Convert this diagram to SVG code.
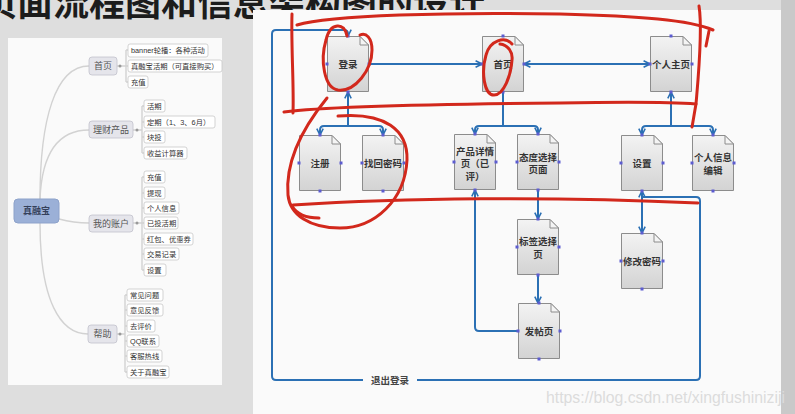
<svg xmlns="http://www.w3.org/2000/svg" xmlns:xlink="http://www.w3.org/1999/xlink" width="795" height="414" viewBox="0 0 795 414">
<style>
  .cjk{font-family:"Liberation Sans","Noto Sans CJK SC",sans-serif;}
  .title{font-size:36px;font-weight:bold;fill:#1c1c1c;}
  .mmc{fill:#ffffff;stroke:#c8c8c8;stroke-width:0.8;}
  .mmp{fill:#e5e5eb;stroke:#c2c2cc;stroke-width:0.8;}
  .mmt{font-size:7.3px;fill:#333;text-anchor:start;}
  .mpt{font-size:9px;fill:#555;text-anchor:middle;}
  .mml{fill:none;stroke:#d2d2d2;stroke-width:1.4;}
  .doc{fill:url(#g);stroke:#8c8c8c;stroke-width:1;}
  .fold{fill:#f4f4f4;stroke:#8c8c8c;stroke-width:1;}
  .nt{font-size:9.5px;font-weight:bold;fill:#333;text-anchor:middle;}
  .cp{fill:#5c5cd0;}
  .con{fill:none;stroke:#2b70b4;stroke-width:2;}
  .red{fill:none;stroke:#d2281c;stroke-width:3;stroke-linecap:round;stroke-linejoin:round;}
</style>
<defs>
  <linearGradient id="g" x1="0" y1="0" x2="0" y2="1">
    <stop offset="0" stop-color="#f3f3f3"/>
    <stop offset="1" stop-color="#d3d3d3"/>
  </linearGradient>
  <g id="docshape">
    <path class="doc" d="M0.5,0.5 H33 L41.5,9 V55.5 H0.5 Z"/>
    <path class="fold" d="M33,0.5 V9 H41.5 Z"/>
  </g>
  <g id="cps">
    <rect class="cp" x="19.5" y="-1.5" width="3" height="3"/>
    <rect class="cp" x="19.5" y="54.5" width="3" height="3"/>
    <rect class="cp" x="-1.5" y="26.5" width="3" height="3"/>
    <rect class="cp" x="40.5" y="26.5" width="3" height="3"/>
  </g>
  <marker id="ah" viewBox="0 0 10 10" refX="9" refY="5" markerWidth="8" markerHeight="8" markerUnits="userSpaceOnUse" orient="auto-start-reverse">
    <path d="M1,1 L9,5 L1,9" fill="none" stroke="#2b70b4" stroke-width="2"/>
  </marker>
</defs>

<!-- backdrop -->
<rect x="0" y="0" width="795" height="414" fill="#dedede"/>
<text class="cjk title" x="-19" y="16">页面流程图和信息架构图的设计</text>
<rect x="8" y="38" width="214" height="347" fill="#fafafa"/>
<rect x="781" y="0" width="14" height="414" fill="#c9c9c9"/>
<rect x="253" y="10" width="528" height="404" fill="#fafafa"/>

<!-- mind map connectors -->
<g id="mindmap-links">
  <path class="mml" d="M40,199 C40,120 55,66 89,66"/>
  <path class="mml" d="M40,199 C42,150 60,130 89,130"/>
  <path class="mml" d="M59,219 C70,222 80,223 89,223"/>
  <path class="mml" d="M40,223 C40,300 60,334 88,334"/>
  <path class="mml" d="M117,66 H126 M126,50 V82 M126,50 H128 M126,66 H128 M126,82 H128"/>
  <path class="mml" d="M133,130 H142 M142,106 V153 M142,106 H144 M142,122 H144 M142,137 H144 M142,153 H144"/>
  <path class="mml" d="M133,223 H142 M142,177 V270 M142,177 H144 M142,193 H144 M142,208 H144 M142,223 H144 M142,239 H144 M142,254 H144 M142,270 H144"/>
  <path class="mml" d="M117,334 H125 M125,295 V372 M125,295 H127 M125,310 H127 M125,326 H127 M125,341 H127 M125,356 H127 M125,372 H127"/>
  <circle cx="120" cy="66" r="1.5" fill="#999"/>
  <circle cx="137" cy="130" r="1.5" fill="#999"/>
  <circle cx="137" cy="223" r="1.5" fill="#999"/>
  <circle cx="120" cy="334" r="1.5" fill="#999"/>
</g>

<!-- mind map nodes -->
<g id="mm-root">
  <rect x="14" y="199" width="45" height="24" rx="4" fill="#9bb0d7" stroke="#8da2ca"/>
  <text class="cjk" x="36.5" y="214" font-size="9" font-weight="bold" fill="#34405a" text-anchor="middle">真融宝</text>
</g>
<g id="mm-home">
  <rect class="mmp" x="89" y="57" width="28" height="18" rx="3"/>
  <text class="cjk mpt" x="103" y="69">首页</text>
  <rect class="mmc" x="128" y="44" width="80" height="13" rx="2"/>
  <text class="cjk mmt" x="131" y="53">banner轮播：各种活动</text>
  <rect class="mmc" x="128" y="60" width="94" height="12" rx="2"/>
  <text class="cjk mmt" x="131" y="68.5">真融宝活期（可直接购买）</text>
  <rect class="mmc" x="128" y="76" width="20" height="12" rx="2"/>
  <text class="cjk mmt" x="131" y="84.5">充值</text>
</g>
<g id="mm-products">
  <rect class="mmp" x="89" y="121" width="44" height="17" rx="3"/>
  <text class="cjk mpt" x="111" y="132.5">理财产品</text>
  <rect class="mmc" x="144" y="100" width="21" height="12" rx="2"/>
  <text class="cjk mmt" x="147" y="108.5">活期</text>
  <rect class="mmc" x="144" y="116" width="71" height="12" rx="2"/>
  <text class="cjk mmt" x="147" y="124.5">定期（1、3、6月）</text>
  <rect class="mmc" x="144" y="131" width="21" height="12" rx="2"/>
  <text class="cjk mmt" x="147" y="139.5">块投</text>
  <rect class="mmc" x="144" y="147" width="43" height="12" rx="2"/>
  <text class="cjk mmt" x="147" y="155.5">收益计算器</text>
</g>
<g id="mm-account">
  <rect class="mmp" x="89" y="215" width="44" height="17" rx="3"/>
  <text class="cjk mpt" x="111" y="226.5">我的账户</text>
  <rect class="mmc" x="144" y="171" width="21" height="12" rx="2"/>
  <text class="cjk mmt" x="147" y="179.5">充值</text>
  <rect class="mmc" x="144" y="187" width="21" height="12" rx="2"/>
  <text class="cjk mmt" x="147" y="195.5">提现</text>
  <rect class="mmc" x="144" y="202" width="35" height="12" rx="2"/>
  <text class="cjk mmt" x="147" y="210.5">个人信息</text>
  <rect class="mmc" x="144" y="217" width="34" height="12" rx="2"/>
  <text class="cjk mmt" x="147" y="225.5">已投活期</text>
  <rect class="mmc" x="144" y="233" width="49" height="12" rx="2"/>
  <text class="cjk mmt" x="147" y="241.5">红包、优惠券</text>
  <rect class="mmc" x="144" y="248" width="35" height="12" rx="2"/>
  <text class="cjk mmt" x="147" y="256.5">交易记录</text>
  <rect class="mmc" x="144" y="264" width="22" height="12" rx="2"/>
  <text class="cjk mmt" x="147" y="272.5">设置</text>
</g>
<g id="mm-help">
  <rect class="mmp" x="88" y="325" width="29" height="18" rx="3"/>
  <text class="cjk mpt" x="102.5" y="337">帮助</text>
  <rect class="mmc" x="127" y="289" width="36" height="12" rx="2"/>
  <text class="cjk mmt" x="130" y="297.5">常见问题</text>
  <rect class="mmc" x="127" y="304" width="36" height="12" rx="2"/>
  <text class="cjk mmt" x="130" y="312.5">意见反馈</text>
  <rect class="mmc" x="127" y="320" width="28" height="12" rx="2"/>
  <text class="cjk mmt" x="130" y="328.5">去评价</text>
  <rect class="mmc" x="127" y="335" width="32" height="12" rx="2"/>
  <text class="cjk mmt" x="130" y="343.5">QQ联系</text>
  <rect class="mmc" x="127" y="350" width="35" height="12" rx="2"/>
  <text class="cjk mmt" x="130" y="358.5">客服热线</text>
  <rect class="mmc" x="127" y="366" width="42" height="12" rx="2"/>
  <text class="cjk mmt" x="130" y="374.5">关于真融宝</text>
</g>

<!-- flow connectors -->
<g id="connectors">
  <path class="con" d="M369,64 H482" marker-end="url(#ah)"/>
  <path class="con" d="M524,64 H650" marker-start="url(#ah)" marker-end="url(#ah)"/>
  <path class="con" d="M348,126 V92" marker-end="url(#ah)"/>
  <path class="con" d="M348,126 H324 Q320,126 320,130 V135" marker-end="url(#ah)"/>
  <path class="con" d="M348,126 H379 Q383,126 383,130 V135" marker-end="url(#ah)"/>
  <path class="con" d="M503,92 V126"/>
  <path class="con" d="M503,126 H479 Q475,126 475,130 V134" marker-end="url(#ah)"/>
  <path class="con" d="M503,126 H534 Q538,126 538,130 V134" marker-end="url(#ah)"/>
  <path class="con" d="M671,126 V92" marker-end="url(#ah)"/>
  <path class="con" d="M671,126 H646 Q642,126 642,130 V135" marker-end="url(#ah)"/>
  <path class="con" d="M671,126 H709 Q713,126 713,130 V135" marker-end="url(#ah)"/>
  <path class="con" d="M538,190 V219" marker-end="url(#ah)"/>
  <path class="con" d="M538,275 V303" marker-end="url(#ah)"/>
  <path class="con" d="M518,331 H479 Q475,331 475,327 V190" marker-end="url(#ah)"/>
  <path class="con" d="M642,233 V191" marker-start="url(#ah)" marker-end="url(#ah)"/>
  <path class="con" d="M642,197 H696 Q700,197 700,201 V376 Q700,380 696,380 H417"/>
  <path class="con" d="M363,380 H276 Q272,380 272,376 V34 Q272,30 276,30 H344 Q348,30 348,34 V36" marker-end="url(#ah)"/>
  <text class="cjk" x="390" y="384" font-size="9.5" font-weight="bold" fill="#444" text-anchor="middle">退出登录</text>
</g>

<!-- flow nodes -->
<g id="n-login">
  <use href="#docshape" x="327" y="36"/><use href="#cps" x="327" y="36"/>
  <text class="cjk nt" x="348" y="67.5">登录</text>
</g>
<g id="n-home">
  <use href="#docshape" x="482" y="36"/><use href="#cps" x="482" y="36"/>
  <text class="cjk nt" x="503" y="67.5">首页</text>
</g>
<g id="n-profile">
  <use href="#docshape" x="650" y="36"/><use href="#cps" x="650" y="36"/>
  <text class="cjk nt" x="671" y="67.5">个人主页</text>
</g>
<g id="n-register">
  <use href="#docshape" x="299" y="135"/><use href="#cps" x="299" y="135"/>
  <text class="cjk nt" x="320" y="166.5">注册</text>
</g>
<g id="n-findpwd">
  <use href="#docshape" x="362" y="135"/><use href="#cps" x="362" y="135"/>
  <text class="cjk nt" x="383" y="166.5">找回密码</text>
</g>
<g id="n-detail">
  <use href="#docshape" x="454" y="134"/><use href="#cps" x="454" y="134"/>
  <text class="cjk nt" x="475" y="154.5">产品详情</text>
  <text class="cjk nt" x="475" y="167">页（已</text>
  <text class="cjk nt" x="475" y="179.5">评）</text>
</g>
<g id="n-attitude">
  <use href="#docshape" x="517" y="134"/><use href="#cps" x="517" y="134"/>
  <text class="cjk nt" x="538" y="160.5">态度选择</text>
  <text class="cjk nt" x="538" y="173">页面</text>
</g>
<g id="n-settings">
  <use href="#docshape" x="621" y="135"/><use href="#cps" x="621" y="135"/>
  <text class="cjk nt" x="642" y="166.5">设置</text>
</g>
<g id="n-editinfo">
  <use href="#docshape" x="692" y="135"/><use href="#cps" x="692" y="135"/>
  <text class="cjk nt" x="713" y="160.5">个人信息</text>
  <text class="cjk nt" x="713" y="173.5">编辑</text>
</g>
<g id="n-tags">
  <use href="#docshape" x="517" y="219"/><use href="#cps" x="517" y="219"/>
  <text class="cjk nt" x="538" y="244.5">标签选择</text>
  <text class="cjk nt" x="538" y="257.5">页</text>
</g>
<g id="n-post">
  <use href="#docshape" x="518" y="303"/><use href="#cps" x="518" y="303"/>
  <text class="cjk nt" x="539" y="335">发帖页</text>
</g>
<g id="n-changepwd">
  <use href="#docshape" x="621" y="233"/><use href="#cps" x="621" y="233"/>
  <text class="cjk nt" x="642" y="265">修改密码</text>
</g>

<!-- red hand annotations -->
<g id="annotations">
  <path class="red" d="M297,25 C330,15 450,12 560,14 C640,16 690,20 713,30"/>
  <path class="red" d="M292,14 C291,45 294,85 293,113"/>
  <path class="red" d="M284,112 C330,106 450,104 560,103 C620,102 670,102 696,104"/>
  <path class="red" d="M699,6 C703,30 698,80 696,104 C694,115 693,122 692,127"/>
  <path class="red" d="M709,31 L706,46"/>
  <path class="red" d="M347,36 C345,22 330,22 326,40 C320,60 324,88 338,90 C355,92 372,70 372,50 C372,38 366,32 360,35"/>
  <path class="red" d="M512,44 C505,36 490,40 486,55 C481,72 484,95 494,95 C504,95 511,75 512,60 C513,52 508,45 500,44"/>
  <path class="red" d="M327,98 C305,125 285,160 288,195 C290,215 310,228 340,228 C375,228 405,200 407,160 C408,130 385,112 338,116"/>
  <path class="red" d="M292,206 C296,213 305,218 319,218"/>
  <path class="red" d="M293,205 C400,198 550,196 698,203"/>
</g>

<text x="546" y="403" font-family="Liberation Sans, sans-serif" font-size="16.5" fill="#dcdcdc" textLength="239" lengthAdjust="spacingAndGlyphs">https://blog.csdn.net/xingfushiniziji</text>
</svg>
